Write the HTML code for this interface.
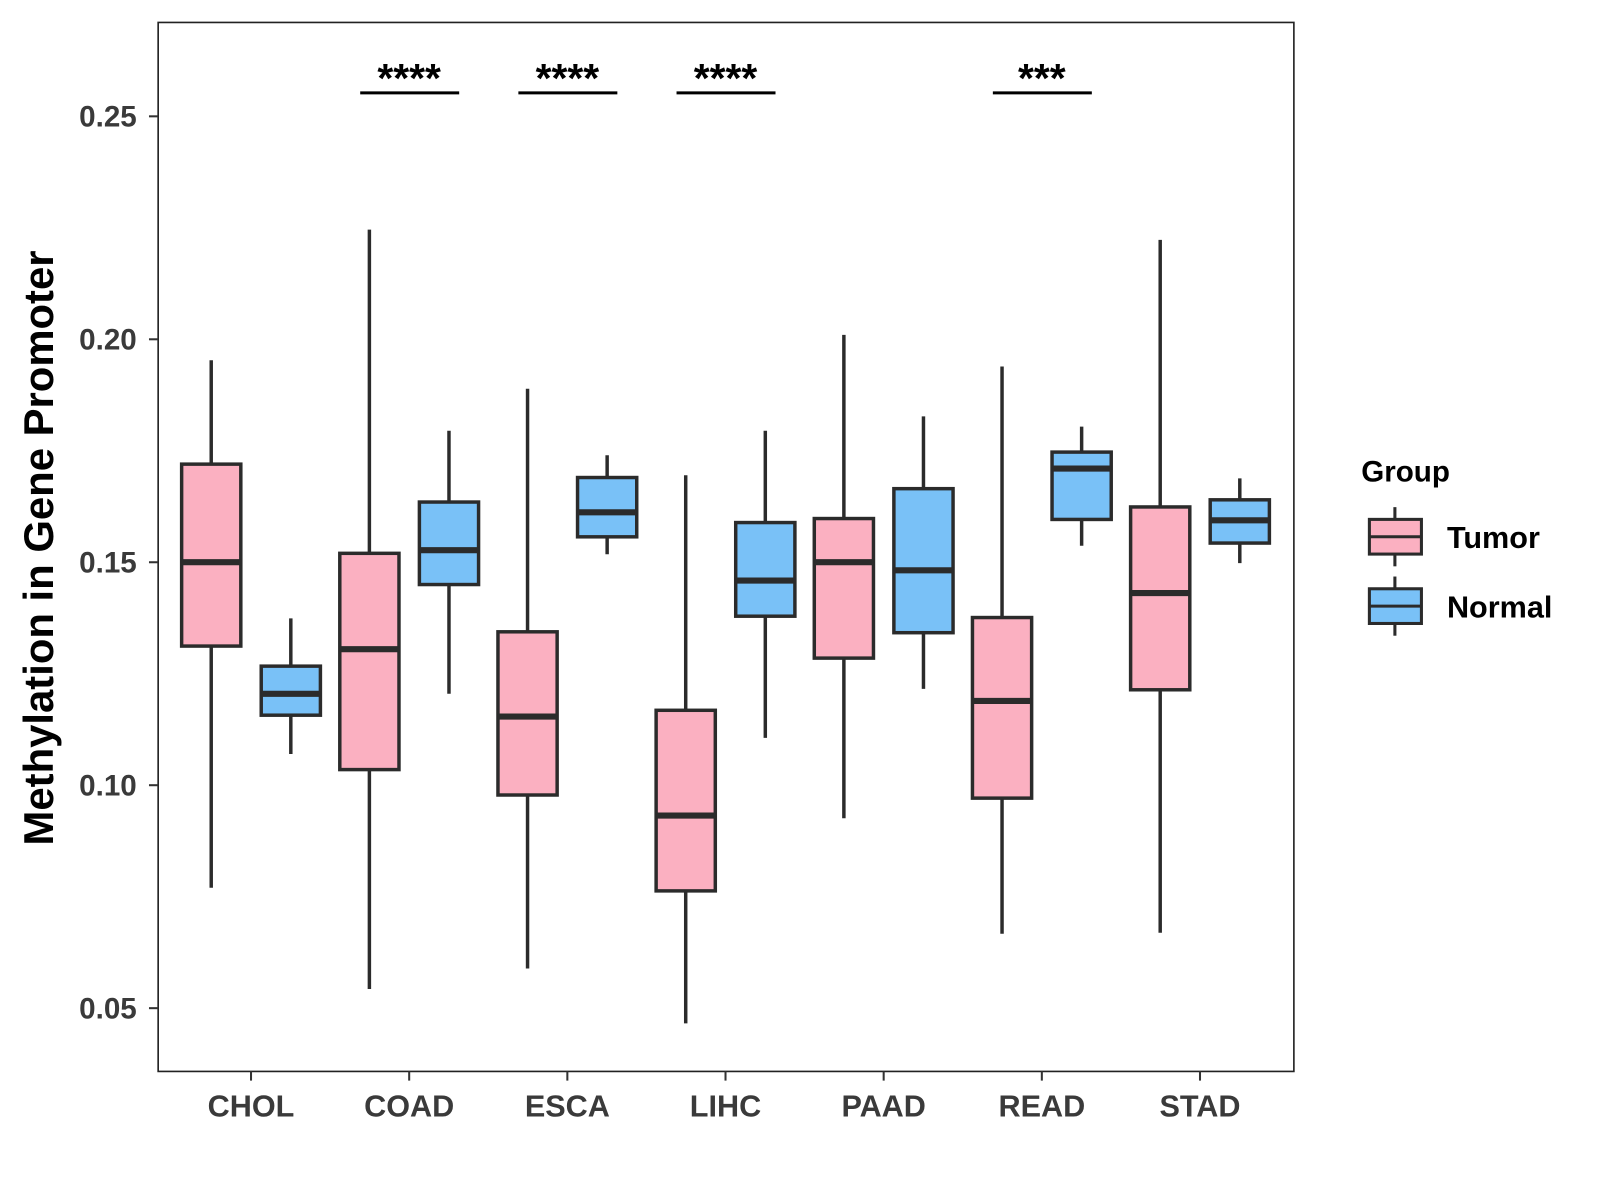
<!DOCTYPE html>
<html><head><meta charset="utf-8"><style>
html,body{margin:0;padding:0;background:#fff;}
svg{display:block;font-family:"Liberation Sans",Arial,sans-serif;}
</style></head><body>
<svg id="chart" width="1600" height="1200" viewBox="0 0 1568 1176" xmlns="http://www.w3.org/2000/svg">
<rect x="0" y="0" width="1568" height="1176" fill="#fff"/>
<rect x="155" y="22" width="1113" height="1028" fill="none" stroke="#222" stroke-width="1.6"/>
<g id="yaxis"></g>
<g id="xaxis"></g>
<g id="boxes"></g>
<g id="sig"></g>
<text transform="translate(52,537) rotate(-90)" text-anchor="middle" font-size="41" font-weight="bold" fill="#000">Methylation in Gene Promoter</text>
<g>
<text x="1334" y="472" font-size="29" font-weight="bold">Group</text>
<g>
<line x1="1367" y1="497" x2="1367" y2="555" stroke="#2b2b2b" stroke-width="3"/>
<rect x="1342" y="509" width="51" height="34" fill="#fbb0c1" stroke="#2b2b2b" stroke-width="3"/>
<line x1="1342" y1="526" x2="1393" y2="526" stroke="#2b2b2b" stroke-width="3"/>
<text x="1418" y="537" font-size="30" font-weight="bold">Tumor</text>
</g>
<g>
<line x1="1367" y1="565" x2="1367" y2="623" stroke="#2b2b2b" stroke-width="3"/>
<rect x="1342" y="577" width="51" height="34" fill="#79c1f7" stroke="#2b2b2b" stroke-width="3"/>
<line x1="1342" y1="594" x2="1393" y2="594" stroke="#2b2b2b" stroke-width="3"/>
<text x="1418" y="605" font-size="30" font-weight="bold">Normal</text>
</g>
</g>
</svg>
<script>
const categories = ["CHOL","COAD","ESCA","LIHC","PAAD","READ","STAD"];
// [low, q1, median, q3, high]
const tumorStats = [
 [0.077,0.1312,0.150,0.172,0.1953],
 [0.0543,0.1035,0.1305,0.152,0.2246],
 [0.0589,0.0978,0.1154,0.1344,0.1889],
 [0.0466,0.0763,0.0932,0.1168,0.1695],
 [0.0926,0.1285,0.150,0.1598,0.201],
 [0.0667,0.0971,0.1189,0.1376,0.1939],
 [0.0669,0.1214,0.1431,0.1624,0.2223]
];
const normalStats = [
 [0.107,0.1157,0.1205,0.1267,0.1374],
 [0.1205,0.145,0.1527,0.1635,0.1795],
 [0.1518,0.1557,0.1612,0.169,0.174],
 [0.1106,0.1379,0.1459,0.1589,0.1795],
 [0.1216,0.1342,0.1482,0.1665,0.1827],
 [0.1537,0.1596,0.171,0.1747,0.1804],
 [0.1498,0.1543,0.1594,0.164,0.1688]
];
const yTicks = [0.05,0.10,0.15,0.20,0.25];
const yTickLabels = ["0.05","0.10","0.15","0.20","0.25"];
const sigCategories = ["COAD","ESCA","LIHC","READ"];
const sigLabels = ["****","****","****","***"];

const NS="http://www.w3.org/2000/svg";
function y(v){return 114+(0.25-v)*4370;}
function x(i){return 246+i*155;}
function mk(tag,attrs,parent,txt){const e=document.createElementNS(NS,tag);for(const k in attrs)e.setAttribute(k,attrs[k]);if(txt!==undefined)e.textContent=txt;parent.appendChild(e);return e;}
const ya=document.getElementById('yaxis'),xa=document.getElementById('xaxis'),bx=document.getElementById('boxes'),sg=document.getElementById('sig');
yTicks.forEach((t,i)=>{
 const l=mk('line',{x1:146,x2:155,y1:y(t),y2:y(t),stroke:'#333','stroke-width':2},ya);
 
 
 const tx=mk('text',{x:134,y:y(t)+10,'text-anchor':'end','font-size':29,'font-weight':'bold',fill:'#3a3a3a'},ya,yTickLabels[i]);
 
 
});
categories.forEach((c,i)=>{
 const l=mk('line',{x1:x(i),x2:x(i),y1:1050,y2:1059,stroke:'#333','stroke-width':2},xa);
 
 
 const tx=mk('text',{x:x(i),y:1094,'text-anchor':'middle','font-size':30,'font-weight':'bold',fill:'#3a3a3a'},xa,c);
 
 
});
function box(cx,s,fill,name){
 const g=mk('g',{},bx);
 
 
 const w=29;
 mk('line',{x1:cx,x2:cx,y1:y(s[4]),y2:y(s[0]),stroke:'#2b2b2b','stroke-width':3.4},g);
 mk('rect',{x:cx-w,y:y(s[3]),width:2*w,height:y(s[1])-y(s[3]),fill:fill,stroke:'#2b2b2b','stroke-width':3.4},g);
 mk('line',{x1:cx-w,x2:cx+w,y1:y(s[2]),y2:y(s[2]),stroke:'#2b2b2b','stroke-width':6},g);
}
categories.forEach((c,i)=>{
 box(x(i)-39,tumorStats[i],'#fbb0c1','box-'+c.toLowerCase()+'-tumor');
 box(x(i)+39,normalStats[i],'#79c1f7','box-'+c.toLowerCase()+'-normal');
});
sigCategories.forEach((c,j)=>{
 const i=categories.indexOf(c);
 const l=mk('line',{x1:x(i)-48,x2:x(i)+49,y1:91,y2:91,stroke:'#000','stroke-width':3},sg);
 
 
 const t=mk('text',{x:x(i),y:90,'text-anchor':'middle','font-size':40,'font-weight':'bold',fill:'#000'},sg,sigLabels[j]);
 
 
});
</script>
</body></html>
